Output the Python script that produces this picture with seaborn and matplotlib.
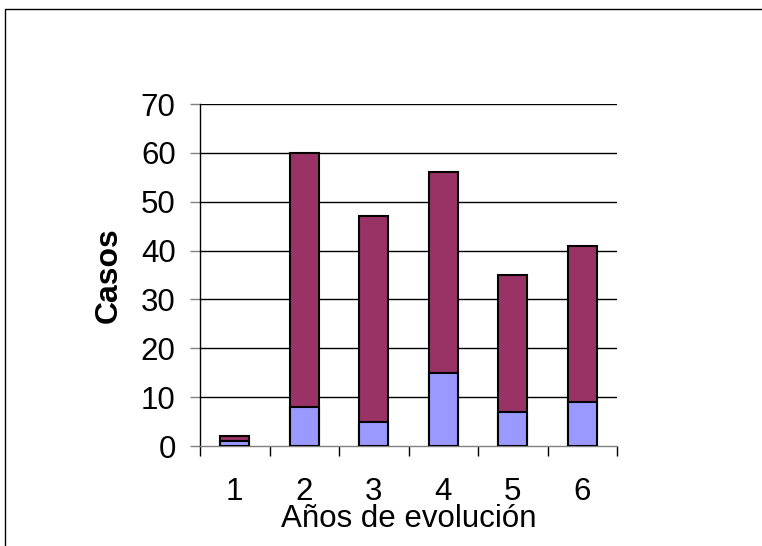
import matplotlib
matplotlib.use("Agg")
import matplotlib.pyplot as plt
import seaborn as sns
import pandas as pd
import numpy as np
from matplotlib.patches import Rectangle

years = ["1", "2", "3", "4", "5", "6"]
lower = [1, 8, 5, 15, 7, 9]
total = [2, 60, 47, 56, 35, 41]

df = pd.DataFrame({"year": years, "lower": lower, "total": total})

sns.set_style("white")
plt.rcParams['font.family'] = ['Liberation Sans', 'DejaVu Sans']
plt.rcParams['text.color'] = 'black'
plt.rcParams['axes.labelcolor'] = 'black'
plt.rcParams['xtick.color'] = 'black'
plt.rcParams['ytick.color'] = 'black'

fig = plt.figure(figsize=(7.62, 5.46), dpi=100)
ax = fig.add_axes([200/762, 1-446/546, 417/762, 342/546])

for y in range(10, 71, 10):
    ax.axhline(y, color="black", lw=1, zorder=0)

sns.barplot(data=df, x="year", y="total", color="#993366", saturation=1,
            width=0.42, edgecolor="black", linewidth=1.5, ax=ax, zorder=2)
sns.barplot(data=df, x="year", y="lower", color="#9999FF", saturation=1,
            width=0.42, edgecolor="black", linewidth=1.5, ax=ax, zorder=3)

ax.set_ylim(0, 70)
ax.set_xlim(-0.5, 5.5)
ax.set_yticks(range(0, 71, 10))
ax.tick_params(axis="y", labelsize=22.5, length=7.5, width=1, color="gray",
               labelcolor="black", direction="out", left=True, pad=10)
ax.set_xticks(range(6))
ax.set_xticks(np.arange(-0.5, 6, 1), minor=True)
ax.tick_params(axis="x", which="major", length=0, labelsize=22.5, pad=22, labelcolor="black")
ax.tick_params(axis="x", which="minor", length=7, width=1, color="black", direction="out", bottom=True)

for s in ["top", "right"]:
    ax.spines[s].set_visible(False)
ax.spines["left"].set_color("black")
ax.spines["bottom"].set_color("gray")
ax.spines["left"].set_linewidth(1)
ax.spines["bottom"].set_linewidth(1)

ax.set_xlabel("Años de evolución", fontsize=22.5, labelpad=-2, color="black")
ax.set_ylabel("Casos", fontsize=23, fontweight="bold", labelpad=12, color="black")

fig.patches.append(Rectangle((5/762, -0.05), 1.2, 1-9/546+0.05, transform=fig.transFigure,
                             fill=False, edgecolor="black", lw=1))

fig.savefig("out.png", dpi=100)
